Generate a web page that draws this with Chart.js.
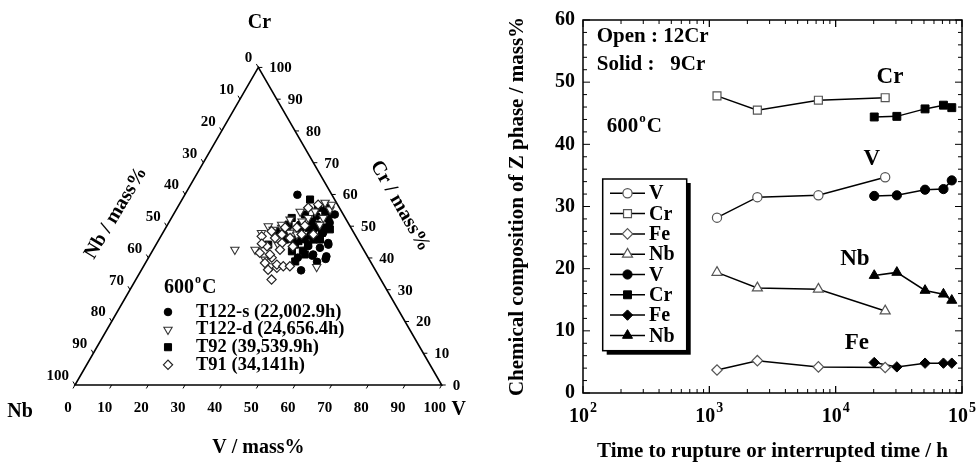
<!DOCTYPE html>
<html>
<head>
<meta charset="utf-8">
<script src="https://cdn.jsdelivr.net/npm/chart.js@4/dist/chart.umd.min.js"></script>
<style>
  html, body { margin: 0; padding: 0; background: #fff; overflow: hidden; }
  #wrap { position: relative; width: 977px; height: 462px; overflow: hidden; }
  #ternary { position: absolute; left: 0; top: 0; }
  #timeplot { position: absolute; left: 490px; top: 0; }
</style>
</head>
<body>
<div id="wrap">
  <canvas id="ternary" width="490" height="462"></canvas>
  <canvas id="timeplot" width="507" height="462"></canvas>
</div>
<script>
// left: Z phase compositions at 600C in mass% (Nb is what is left)
var ternNames = ['T122-s (22,002.9h)', 'T122-d (24,656.4h)', 'T92 (39,539.9h)', 'T91 (34,141h)'];
var t122sCr = [59.9, 40.7, 36.1, 39.7, 44.7, 51.1, 53.2, 55.8, 45.8, 47.9, 48.9, 43.2, 43.7, 41.1, 40.5, 38.8, 44.2, 50.5, 50.5, 45.8, 53.7, 47.1, 40.1];
var t122sV  = [30.7, 44.4, 43.6, 48.5, 46.7, 43.9, 39.3, 40.7, 39.8, 43.7, 40.5, 45.2, 41.7, 44.4, 48.3, 46.6, 47.0, 41.0, 36.1, 36.3, 44.0, 40.6, 40.7];
var t122dCr = [42.6, 42.6, 37.2, 57.4, 55.3, 56.8, 52.6, 54.7, 49.5, 52.6, 50.0, 48.9, 50.5, 47.9, 39.5, 37.4, 52.1, 54.6, 50.5, 47.4, 48.0, 51.5, 44.2];
var t122dV  = [22.3, 27.8, 47.3, 39.5, 41.9, 41.6, 41.4, 38.1, 31.6, 37.3, 27.7, 29.6, 31.1, 26.9, 32.1, 34.9, 32.6, 34.1, 41.5, 36.8, 34.6, 36.2, 33.3];
var t92Cr   = [52.6, 53.7, 55.8, 54.7, 52.6, 49.5, 47.9, 45.3, 44.2, 38.9, 42.1, 50.5, 48.4, 49.6, 45.8, 45.8, 44.2, 58.4, 49.6, 42.3,
               48.3, 51.5, 45.8, 44.2, 41.1, 49.0, 48.3, 49.6];
var t92V    = [32.8, 35.9, 38.4, 40.9, 42.8, 38.9, 43.4, 38.3, 41.5, 40.6, 38.1, 33.0, 31.2, 36.6, 42.1, 34.4, 30.6, 34.9, 43.4, 41.0,
               37.2, 38.9, 43.9, 37.9, 42.1, 45.0, 33.6, 40.6];
var t91Cr   = [33.2, 36.3, 36.9, 38.4, 41.6, 43.7, 46.3, 46.8, 48.4, 47.4, 44.7, 46.3, 47.4, 47.4, 37.9, 37.4, 37.4, 42.6, 55.8, 56.8, 40.1, 49.6,
               49.6, 43.6, 44.5, 50.2, 41.1];
var t91V    = [37.0, 34.5, 36.6, 32.6, 29.6, 30.5, 31.4, 27.5, 29.4, 32.7, 34.1, 35.5, 38.1, 41.3, 36.1, 38.1, 39.9, 34.6, 35.7, 37.9, 33.6, 35.7,
               32.5, 37.6, 28.7, 37.6, 32.6];
var ternTicks = [0, 10, 20, 30, 40, 50, 60, 70, 80, 90, 100];

// right: open = 12Cr, solid = 9Cr
var openTime  = [1150, 2400, 7300, 24656];
var openV     = [28.2, 31.5, 31.8, 34.7];
var openCr    = [47.8, 45.5, 47.1, 47.5];
var openFe    = [3.7, 5.2, 4.2, 4.1];
var openNb    = [19.4, 16.9, 16.7, 13.2];
var solidTime = [20200, 30500, 51000, 71300, 83000];
var solidV    = [31.7, 31.8, 32.7, 32.8, 34.2];
var solidCr   = [44.4, 44.5, 45.7, 46.3, 45.9];
var solidFe   = [4.9, 4.2, 4.8, 4.8, 4.8];
var solidNb   = [18.9, 19.4, 16.5, 15.9, 14.9];
var xTickValues = [100, 1000, 10000, 100000];
var xTickPowers = ['2', '3', '4', '5'];
var yTickValues = [0, 10, 20, 30, 40, 50, 60];

var FONT = '"Liberation Serif", "Times New Roman", serif';

function toXY(cr, v) {
    return { x: v + cr / 2, y: cr * Math.sqrt(3) / 2 };
}
function ternData(crs, vs) {
    return crs.map(function (c, i) { return toXY(c, vs[i]); });
}
function series(times, vals) {
    return times.map(function (t, i) { return { x: t, y: vals[i] }; });
}

function marker(ctx, ds, x, y) {
    ctx.fillStyle = ds.pointBackgroundColor;
    ctx.strokeStyle = ds.pointBorderColor;
    ctx.lineWidth = ds.pointBorderWidth;
    Chart.helpers.drawPoint(ctx, {
        pointStyle: ds.pointStyle, rotation: ds.pointRotation || 0,
        radius: ds.pointRadius, borderWidth: ds.pointBorderWidth
    }, x, y);
}

function degText(ctx, x, y, size) {
    ctx.textAlign = 'left';
    ctx.textBaseline = 'middle';
    ctx.font = 'bold ' + size + 'px ' + FONT;
    ctx.fillText('600', x, y);
    x += ctx.measureText('600').width + 1;
    ctx.font = 'bold ' + Math.round(size * 0.6) + 'px ' + FONT;
    ctx.fillText('o', x, y - size * 0.38);
    x += ctx.measureText('o').width + 1;
    ctx.font = 'bold ' + size + 'px ' + FONT;
    ctx.fillText('C', x, y);
}

function rotText(ctx, text, x, y, angle) {
    ctx.save();
    ctx.translate(x, y);
    ctx.rotate(angle * Math.PI / 180);
    ctx.textAlign = 'center';
    ctx.textBaseline = 'middle';
    ctx.fillText(text, 0, 0);
    ctx.restore();
}

function tick(ctx, p, dx, dy) {
    ctx.beginPath();
    ctx.moveTo(p[0], p[1]);
    ctx.lineTo(p[0] + dx * 4, p[1] + dy * 4);
    ctx.stroke();
}

var ternaryAxes = {
    id: 'ternaryAxes',
    beforeDatasetsDraw: function (chart) {
        var ctx = chart.ctx, sx = chart.scales.x, sy = chart.scales.y;
        function pt(cr, v) {
            var p = toXY(cr, v);
            return [sx.getPixelForValue(p.x), sy.getPixelForValue(p.y)];
        }
        var top = pt(100, 0), left = pt(0, 0), right = pt(0, 100);
        ctx.save();
        ctx.strokeStyle = '#000';
        ctx.lineWidth = 1.6;
        ctx.beginPath();
        ctx.moveTo(top[0], top[1]);
        ctx.lineTo(left[0], left[1]);
        ctx.lineTo(right[0], right[1]);
        ctx.closePath();
        ctx.stroke();

        ctx.lineWidth = 1;
        ctx.fillStyle = '#000';
        ctx.font = 'bold 15px ' + FONT;
        ctx.textBaseline = 'middle';
        ternTicks.forEach(function (k) {
            var p = pt(0, k);
            tick(ctx, p, -0.5, 0.866);
            ctx.textAlign = 'center';
            ctx.fillText(String(k), p[0] - 7, p[1] + 23);

            p = pt(100 - k, 0);
            tick(ctx, p, -0.5, -0.866);
            ctx.textAlign = 'right';
            ctx.fillText(String(k), p[0] - 6, p[1] - 9);

            p = pt(k, 100 - k);
            tick(ctx, p, 1, 0);
            ctx.textAlign = 'left';
            ctx.fillText(String(k), p[0] + 11, p[1] + 1);
        });

        ctx.font = 'bold 20px ' + FONT;
        ctx.textAlign = 'center';
        ctx.fillText('Cr', top[0] + 1, top[1] - 45);
        ctx.fillText('Nb', left[0] - 55, left[1] + 27);
        ctx.fillText('V', right[0] + 17, right[1] + 25);
        ctx.font = 'bold 20px ' + FONT;
        ctx.fillText('V / mass%', (left[0] + right[0]) / 2, left[1] + 63);
        rotText(ctx, 'Nb / mass%', 116, 213, -59);
        rotText(ctx, 'Cr / mass%', 400, 206, 60);
        ctx.restore();
    }
};

var ternaryLegend = {
    id: 'ternaryLegend',
    afterDraw: function (chart) {
        var ctx = chart.ctx;
        ctx.save();
        ctx.fillStyle = '#000';
        degText(ctx, 164, 288, 20);
        chart.data.datasets.forEach(function (ds, i) {
            var y = 312 + i * 17.6;
            marker(ctx, ds, 168, y);
            ctx.fillStyle = '#000';
            ctx.font = 'bold 18.5px ' + FONT;
            ctx.textAlign = 'left';
            ctx.textBaseline = 'middle';
            ctx.fillText(ds.label, 196, y);
        });
        ctx.restore();
    }
};

new Chart(document.getElementById('ternary'), {
    type: 'scatter',
    data: {
        datasets: [
            { label: ternNames[0], data: ternData(t122sCr, t122sV), order: 3,
              pointStyle: 'circle', pointRadius: 3.8, pointBackgroundColor: '#000', pointBorderColor: '#000', pointBorderWidth: 1 },
            { label: ternNames[1], data: ternData(t122dCr, t122dV), order: 2,
              pointStyle: 'triangle', pointRotation: 180, pointRadius: 4.8, pointBackgroundColor: '#fff', pointBorderColor: '#333', pointBorderWidth: 1.1 },
            { label: ternNames[2], data: ternData(t92Cr, t92V), order: 4,
              pointStyle: 'rect', pointRadius: 5, pointBackgroundColor: '#000', pointBorderColor: '#000', pointBorderWidth: 1 },
            { label: ternNames[3], data: ternData(t91Cr, t91V), order: 1,
              pointStyle: 'rectRot', pointRadius: 4.6, pointBackgroundColor: '#fff', pointBorderColor: '#222', pointBorderWidth: 1.2 }
        ]
    },
    options: {
        responsive: false,
        animation: false,
        events: [],
        layout: { padding: 0, autoPadding: false },
        plugins: { legend: { display: false }, tooltip: { enabled: false } },
        scales: {
            x: { type: 'linear', display: false, min: -20.45, max: 113.17 },
            y: { type: 'linear', display: false, min: -21.0, max: 104.99 }
        }
    },
    plugins: [ternaryAxes, ternaryLegend]
});

// right panel
function openSet(label, style, times, vals, r) {
    return { label: label, data: series(times, vals), borderColor: '#000', borderWidth: 1.5,
             pointStyle: style, pointRadius: r, pointBackgroundColor: '#fff',
             pointBorderColor: '#555', pointBorderWidth: 1.2 };
}
function solidSet(label, style, times, vals, r) {
    return { label: label, data: series(times, vals), borderColor: '#000', borderWidth: 1.5,
             pointStyle: style, pointRadius: r, pointBackgroundColor: '#000',
             pointBorderColor: '#000', pointBorderWidth: 1 };
}

var timeDecor = {
    id: 'timeDecor',
    afterDraw: function (chart) {
        var ctx = chart.ctx, a = chart.chartArea, sx = chart.scales.x, sy = chart.scales.y;
        ctx.save();
        ctx.strokeStyle = '#000';
        ctx.lineWidth = 1.5;
        ctx.strokeRect(a.left, a.top, a.right - a.left, a.bottom - a.top);

        ctx.lineWidth = 1;
        ctx.beginPath();
        for (var v = 0; v <= 60; v += 2) {
            var y = sy.getPixelForValue(v), len = v % 10 ? 4 : 7;
            ctx.moveTo(a.left, y); ctx.lineTo(a.left + len, y);
            ctx.moveTo(a.right, y); ctx.lineTo(a.right - len, y);
        }
        for (var d = 100; d < 100000; d *= 10) {
            for (var m = 1; m <= 10; m++) {
                var x = sx.getPixelForValue(d * m), l2 = (m === 1 || m === 10) ? 7 : 4;
                ctx.moveTo(x, a.bottom); ctx.lineTo(x, a.bottom - l2);
                ctx.moveTo(x, a.top); ctx.lineTo(x, a.top + l2);
            }
        }
        ctx.stroke();

        // decade labels 10^n under the axis
        ctx.fillStyle = '#000';
        ctx.textAlign = 'left';
        ctx.textBaseline = 'alphabetic';
        xTickValues.forEach(function (val, i) {
            var px = sx.getPixelForValue(val);
            ctx.font = 'bold 20px ' + FONT;
            var w1 = ctx.measureText('10').width;
            ctx.font = 'bold 14px ' + FONT;
            var w2 = ctx.measureText(xTickPowers[i]).width;
            var x0 = px - (w1 + w2 + 1) / 2;
            ctx.font = 'bold 20px ' + FONT;
            ctx.fillText('10', x0, a.bottom + 29);
            ctx.font = 'bold 14px ' + FONT;
            ctx.fillText(xTickPowers[i], x0 + w1 + 1, a.bottom + 19);
        });

        // legend box with shadow
        var bx = 112.7, by = 179, bw = 84, bh = 171.7;
        ctx.fillStyle = '#000';
        ctx.fillRect(bx + 4, by + 4, bw, bh);
        ctx.fillStyle = '#fff';
        ctx.fillRect(bx, by, bw, bh);
        ctx.lineWidth = 1.5;
        ctx.strokeRect(bx, by, bw, bh);
        chart.data.datasets.forEach(function (ds, i) {
            var ly = 193.3 + i * 20.3;
            ctx.strokeStyle = '#000';
            ctx.lineWidth = 1.5;
            ctx.beginPath();
            ctx.moveTo(120, ly); ctx.lineTo(155, ly);
            ctx.stroke();
            marker(ctx, ds, 137.5, ly);
            ctx.fillStyle = '#000';
            ctx.font = 'bold 20px ' + FONT;
            ctx.textAlign = 'left';
            ctx.textBaseline = 'middle';
            ctx.fillText(ds.label, 159, ly + 1);
        });

        ctx.fillStyle = '#000';
        ctx.font = 'bold 21px ' + FONT;
        ctx.textAlign = 'left';
        ctx.textBaseline = 'middle';
        ctx.fillText('Open : 12Cr', 106.7, 37);
        ctx.fillText('Solid :   9Cr', 106.7, 65);
        degText(ctx, 116.7, 127, 21);

        ctx.font = 'bold 23px ' + FONT;
        ctx.textAlign = 'center';
        ctx.fillText('Cr', sx.getPixelForValue(26900), sy.getPixelForValue(50.9));
        ctx.fillText('V', sx.getPixelForValue(19300), sy.getPixelForValue(37.6));
        ctx.fillText('Nb', sx.getPixelForValue(14200), sy.getPixelForValue(21.5));
        ctx.fillText('Fe', sx.getPixelForValue(14700), sy.getPixelForValue(8.0));
        ctx.restore();
    }
};

var tickFont = { family: FONT, weight: 'bold', size: 20 };

new Chart(document.getElementById('timeplot'), {
    type: 'line',
    data: {
        datasets: [
            openSet('V', 'circle', openTime, openV, 4.6),
            openSet('Cr', 'rect', openTime, openCr, 5.6),
            openSet('Fe', 'rectRot', openTime, openFe, 5.2),
            openSet('Nb', 'triangle', openTime, openNb, 5.8),
            solidSet('V', 'circle', solidTime, solidV, 4.6),
            solidSet('Cr', 'rect', solidTime, solidCr, 5.6),
            solidSet('Fe', 'rectRot', solidTime, solidFe, 5.2),
            solidSet('Nb', 'triangle', solidTime, solidNb, 5.8)
        ]
    },
    options: {
        responsive: false,
        animation: false,
        events: [],
        layout: { padding: { left: 0, top: 16, right: 35, bottom: 0 } },
        plugins: { legend: { display: false }, tooltip: { enabled: false } },
        scales: {
            x: {
                type: 'logarithmic', min: 100, max: 100000,
                afterBuildTicks: function (s) {
                    s.ticks = xTickValues.map(function (v) { return { value: v }; });
                },
                afterFit: function (s) { s.height = 69; },
                ticks: { display: false },
                grid: { display: false, drawTicks: false },
                border: { display: false },
                title: {
                    display: true, text: 'Time to rupture or interrupted time / h', color: '#000',
                    font: { family: FONT, weight: 'bold', size: 21, lineHeight: 1 },
                    padding: { top: 0, bottom: 0 }
                }
            },
            y: {
                min: 0, max: 60,
                afterBuildTicks: function (s) {
                    s.ticks = yTickValues.map(function (v) { return { value: v }; });
                },
                afterFit: function (s) { s.width = 93; },
                ticks: { padding: 8, color: '#000', font: tickFont },
                grid: { display: false, drawTicks: false },
                border: { display: false },
                title: {
                    display: true, text: 'Chemical composition of Z phase / mass%', color: '#000',
                    font: { family: FONT, weight: 'bold', size: 21, lineHeight: 1 },
                    padding: { top: 17, bottom: 0 }
                }
            }
        }
    },
    plugins: [timeDecor]
});
</script>
</body>
</html>
